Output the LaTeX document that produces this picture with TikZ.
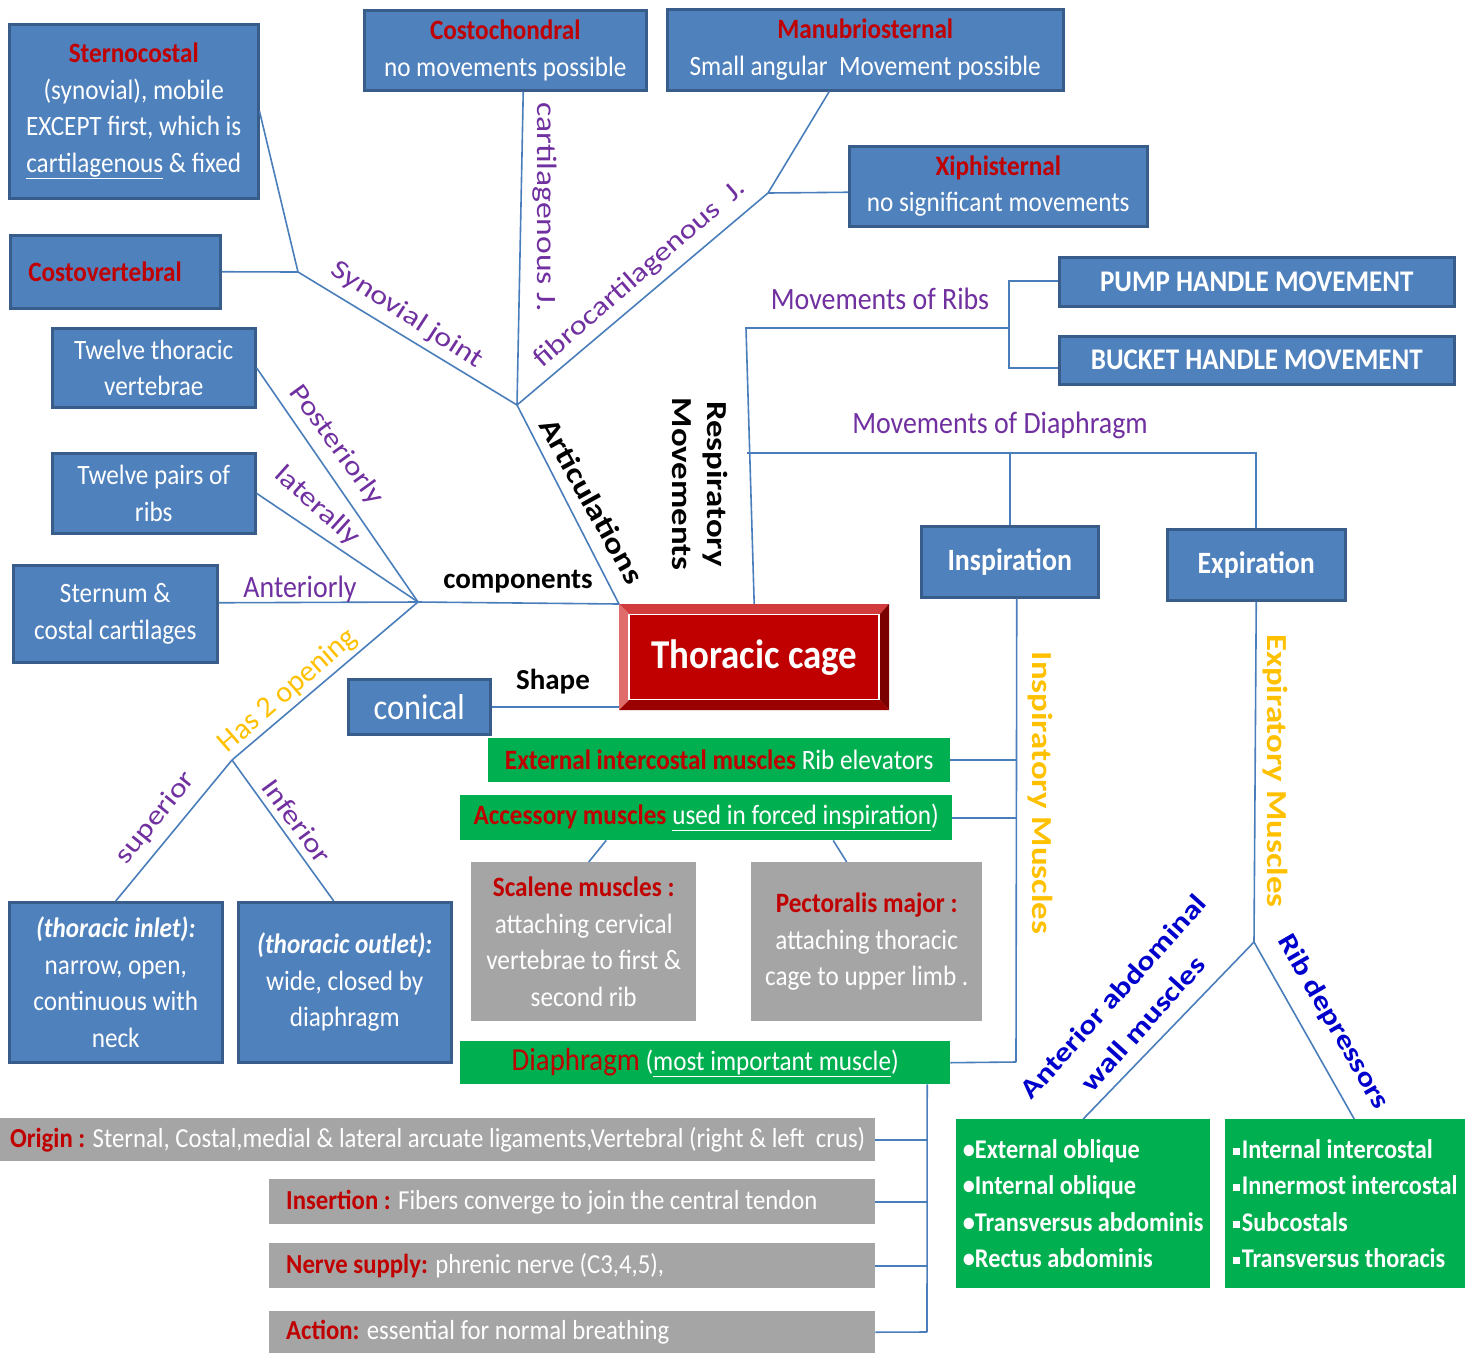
\documentclass[tikz,border=0pt]{standalone}
\usepackage{fontspec}
\setmainfont{Carlito}[FakeStretch=0.9]
\newfontfamily\widefont{Carlito}[FakeStretch=1.2]
\newfontfamily\plainfont{Carlito}
\usepackage{tikz}

\definecolor{boxblue}{HTML}{4F81BD}
\definecolor{boxedge}{HTML}{385D8A}
\definecolor{linkblue}{HTML}{4A7EBB}
\definecolor{titlered}{HTML}{C00000}
\definecolor{lblpurple}{HTML}{7030A0}
\definecolor{lblorange}{HTML}{FFC000}
\definecolor{lblblue}{HTML}{0000CC}
\definecolor{boxgreen}{HTML}{00B050}
\definecolor{boxgray}{HTML}{A5A5A5}
\definecolor{cagered}{HTML}{C00000}
\definecolor{cagetop}{HTML}{D23C3C}
\definecolor{cageleft}{HTML}{E06C6C}
\definecolor{cageright}{HTML}{7A0000}
\definecolor{cagebot}{HTML}{9A0000}

\newcommand\fsz[2]{\fontsize{#1}{#2}\selectfont}
\newcommand\sqb{\rule[0.28ex]{7pt}{7pt}\hspace{2pt}}
\newcommand\red[1]{\textcolor{titlered}{\bfseries #1}}

\begin{document}
\begin{tikzpicture}[x=1pt, y=-1pt,
                    bluebox/.style={draw=boxedge, line width=2.5pt, fill=boxblue, text=white,
                                    align=center, anchor=north west, inner sep=0pt,
                                    font=\fsz{28}{36.5}},
                    greenbox/.style={fill=boxgreen, text=white, align=center, anchor=north west,
                                     inner sep=0pt, font=\fsz{28}{36.5}},
                    graybox/.style={fill=boxgray, text=white, align=center, anchor=north west,
                                    inner sep=0pt, font=\fsz{28}{36.5}},
                    link/.style={draw=linkblue, line width=1.6pt},
                    purplbl/.style={text=lblpurple, inner sep=0pt, font=\widefont\fsz{27}{30}},
                    blacklbl/.style={text=black, inner sep=0pt, font=\widefont\bfseries\fsz{29}{35}},
                    orangelbl/.style={text=lblorange, inner sep=0pt, font=\widefont\bfseries\fsz{29}{32}},
                    bluelbl/.style={text=lblblue, inner sep=0pt, font=\widefont\bfseries\fsz{27}{40}}
                    ]
    \useasboundingbox (0,0) rectangle (1470,1353);

    % junctions
    \coordinate (jArt)  at (517,405);
    \coordinate (jSyn)  at (298,272);
    \coordinate (jFib)  at (768,193);
    \coordinate (jComp) at (418,602);
    \coordinate (jOpen) at (232,760);
    \coordinate (jResp) at (746,328);
    \coordinate (jRibs) at (1009,328);
    \coordinate (jRibsT) at (1009,281);
    \coordinate (jRibsB) at (1009,368);
    \coordinate (jDia)  at (747,453);
    \coordinate (jInsp) at (1016,1062);
    \coordinate (jExp)  at (1254,942);
    \coordinate (jDiaB) at (927,1332);

    % articulations
    \node[bluebox, minimum width=249, minimum height=174] (stcost) at (8,23)
        {\red{Sternocostal}\\(synovial), mobile\\EXCEPT first, which is\\\underline{cartilagenous} \& fixed};
    \node[bluebox, minimum width=282, minimum height=80] (costch) at (363,9)
        {\red{Costochondral}\\no movements possible};
    \node[bluebox, minimum width=396, minimum height=81] (manub) at (666,8)
        {\red{Manubriosternal}\\Small angular~ Movement possible};
    \node[bluebox, minimum width=298, minimum height=80] (xiphi) at (848,145)
        {\red{Xiphisternal}\\no significant movements};
    \node[bluebox, minimum width=210, minimum height=73, text width=174, align=flush left] (costv) at (9,234)
        {\red{Costovertebral}};

    % components
    \node[bluebox, minimum width=203, minimum height=79] (vert) at (51,327) {Twelve thoracic\\vertebrae};
    \node[bluebox, minimum width=203, minimum height=80] (ribs) at (51,452) {Twelve pairs of\\ribs};
    \node[bluebox, minimum width=204, minimum height=97] (stern) at (12,564) {Sternum \&\\costal cartilages};
    \node[bluebox, minimum width=142, minimum height=55, font=\fsz{36}{40}] (conic) at (347,678) {conical};
    \node[bluebox, minimum width=213, minimum height=160] (inlet) at (8,901)
        {\textbf{\textit{(thoracic inlet):}}\\narrow, open,\\continuous with\\neck};
    \node[bluebox, minimum width=213, minimum height=160] (outlet) at (237,901)
        {\textbf{\textit{(thoracic outlet):}}\\wide, closed by\\diaphragm};

    % movements
    \node[bluebox, minimum width=395, minimum height=49, font=\bfseries\fsz{30}{34}] (pump) at (1058,256)
        {PUMP HANDLE MOVEMENT};
    \node[bluebox, minimum width=395, minimum height=48, font=\bfseries\fsz{30}{34}] (bucket) at (1058,335)
        {BUCKET HANDLE MOVEMENT};
    \node[bluebox, minimum width=177, minimum height=71, font=\bfseries\fsz{31}{34}] (insp) at (920,525) {Inspiration};
    \node[bluebox, minimum width=178, minimum height=71, font=\bfseries\fsz{31}{34}] (expi) at (1166,528) {Expiration};

    % muscles
    \node[greenbox, minimum width=462, minimum height=44] (extic) at (488,738)
        {\red{External intercostal muscles} Rib elevators};
    \node[greenbox, minimum width=492, minimum height=45] (access) at (460,795)
        {\red{Accessory muscles} \underline{used in forced inspiration})};
    \node[greenbox, minimum width=490, minimum height=43] (diaph) at (460,1041)
        {\textcolor{titlered}{\fsz{32}{36}Diaphragm} (\underline{most important muscle})};
    \node[graybox, minimum width=225, minimum height=159] (scal) at (471,862)
        {\red{Scalene muscles :}\\attaching cervical\\vertebrae to first \&\\second rib};
    \node[graybox, minimum width=231, minimum height=159] (pect) at (751,862)
        {\red{Pectoralis major :}\\attaching thoracic\\cage to upper limb .};
    \node[greenbox, minimum width=254, minimum height=169, align=flush left, font=\bfseries\fsz{27}{36.5}] (abdo) at (956,1119)
        {\textbullet External oblique\\\textbullet Internal oblique\\\textbullet Transversus abdominis\\\textbullet Rectus abdominis};
    \node[greenbox, minimum width=240, minimum height=169, align=flush left, font=\bfseries\fsz{27}{36.5}] (ribdep) at (1225,1119)
        {\sqb Internal intercostal\\\sqb Innermost intercostal\\\sqb Subcostals\\\sqb Transversus thoracis};

    % diaphragm
    \node[graybox, minimum width=875, minimum height=43, font=\fsz{27.5}{30}] (orig) at (0,1118)
        {\red{Origin :} Sternal, Costal,medial \& lateral arcuate ligaments,Vertebral (right \& left~ crus)};
    \node[graybox, minimum width=606, minimum height=45, text width=572, align=flush left, font=\fsz{27.5}{30}] (insert) at (269,1179)
        {\red{Insertion :} Fibers converge to join the central tendon};
    \node[graybox, minimum width=606, minimum height=45, text width=572, align=flush left, font=\fsz{27.5}{30}] (nerve) at (269,1243)
        {\red{Nerve supply:} phrenic nerve (C3,4,5),};
    \node[graybox, minimum width=606, minimum height=42, text width=572, align=flush left, font=\fsz{27.5}{30}] (action) at (269,1311)
        {\red{Action:} essential for normal breathing};

    % thoracic cage
    \node[anchor=north west, minimum width=270, minimum height=106, inner sep=0pt] (cage) at (619,604) {};
    \fill[cagetop]   (619,604) -- (889,604) -- (880,614) -- (629,614) -- cycle;
    \fill[cageleft]  (619,604) -- (629,614) -- (629,700) -- (619,710) -- cycle;
    \fill[cageright] (889,604) -- (889,710) -- (880,700) -- (880,614) -- cycle;
    \fill[cagebot]   (619,710) -- (889,710) -- (880,700) -- (629,700) -- cycle;
    \node[fill=cagered, draw=white, line width=1.5pt, minimum width=250, minimum height=85,
          text=white, font=\bfseries\fsz{41}{44}] (cagetxt) at (cage.center) {Thoracic cage};

    % connectors
    \draw[link] (cage.north west) -- (jArt);
    \draw[link] (jArt) -- (jSyn);
    \draw[link] (stcost.east) -- (jSyn) -- (costv.east);
    \draw[link] ([xshift=18pt]costch.south) -- (jArt);
    \draw[link] (jArt) -- (jFib) -- ([xshift=-36pt]manub.south);
    \draw[link] (jFib) -- ([yshift=-6pt]xiphi.west);

    \draw[link] (jComp) -- (cage.north west);
    \draw[link] (vert.east) -- (jComp);
    \draw[link] (ribs.east) -- (jComp);
    \draw[link] ([yshift=11pt]stern.east) -- (jComp);
    \draw[link] (jComp) -- (jOpen);
    \draw[link] (jOpen) -- (inlet.north);
    \draw[link] (jOpen) -- ([xshift=-11pt]outlet.north);
    \draw[link] (conic.east) -- (conic.east -| cage.west);

    \draw[link] (cage.north) -- (jResp) -- (jRibs);
    \draw[link] (jRibsT -| pump.west) -- (jRibsT) -- (jRibsB) -- (jRibsB -| bucket.west);
    \draw[link] (jDia) -- (jDia -| expi.north) -- (expi.north);
    \draw[link] (insp.north) -- (insp.north |- jDia);

    \draw[link] ([xshift=7pt]insp.south) -- (jInsp);
    \draw[link] (extic.east) -- (extic.east -| jInsp);
    \draw[link] (access.east) -- (access.east -| jInsp);
    \draw[link] (diaph.east) -- (jInsp);
    \draw[link] ([xshift=-100pt]access.south) -- ([xshift=5pt]scal.north);
    \draw[link] ([xshift=127pt]access.south) -- ([xshift=-20pt]pect.north);

    \draw[link] (expi.south) -- (jExp);
    \draw[link] (jExp) -- (abdo.north);
    \draw[link] (jExp) -- ([xshift=9pt]ribdep.north);

    \draw[link] ([xshift=222pt]diaph.south) -- (jDiaB);
    \draw[link] (orig.east) -- (orig.east -| jDiaB);
    \draw[link] (insert.east) -- (insert.east -| jDiaB);
    \draw[link] (nerve.east) -- (nerve.east -| jDiaB);
    \draw[link] (action.east) -- (jDiaB);

    % labels
    \node[purplbl, rotate=-33] (tSyn) at (407,315) {Synovial joint};
    \node[purplbl, rotate=-90, font=\widefont\fsz{28}{30}] (tCart) at (545,207) {cartilagenous J.};
    \node[purplbl, rotate=41] (tFib) at (640,274) {fibrocartilagenous~ J.};
    \node[purplbl, rotate=-54] (tPost) at (336,445) {Posteriorly};
    \node[purplbl, rotate=-42] (tLat) at (317,506) {laterally};
    \node[purplbl, font=\fsz{31}{34}] (tAnt) at (300,589) {Anteriorly};
    \node[purplbl, rotate=51] (tSup) at (156,818) {superior};
    \node[purplbl, rotate=-54] (tInf) at (297,821) {Inferior};
    \node[text=lblorange, inner sep=0pt, font=\plainfont\fsz{30}{33}, rotate=41] (tOpen) at (288,691) {Has 2 opening};
    \node[blacklbl, rotate=-61] (tArt) at (592,501) {Articulations};
    \node[blacklbl, rotate=-90, align=center] (tResp) at (700,484) {Respiratory\\Movements};
    \node[blacklbl, font=\plainfont\bfseries\fsz{29}{32}] (tComp) at (518,582) {components};
    \node[blacklbl, font=\plainfont\bfseries\fsz{29}{32}] (tShape) at (553,682) {Shape};
    \node[purplbl, font=\fsz{31}{34}] (tMRib) at (880,299) {Movements of Ribs};
    \node[purplbl, font=\fsz{31}{34}] (tMDia) at (1000,425) {Movements of Diaphragm};
    \node[orangelbl, rotate=-90] (tInspM) at (1040,793) {Inspiratory Muscles};
    \node[orangelbl, rotate=-90] (tExpM) at (1275,771) {Expiratory Muscles};
    \node[bluelbl, rotate=48, align=center] (tAbd) at (1128,1010) {Anterior abdominal\\wall muscles};
    \node[bluelbl, rotate=-60] (tRibD) at (1333,1022) {Rib depressors};
\end{tikzpicture}
\end{document}
